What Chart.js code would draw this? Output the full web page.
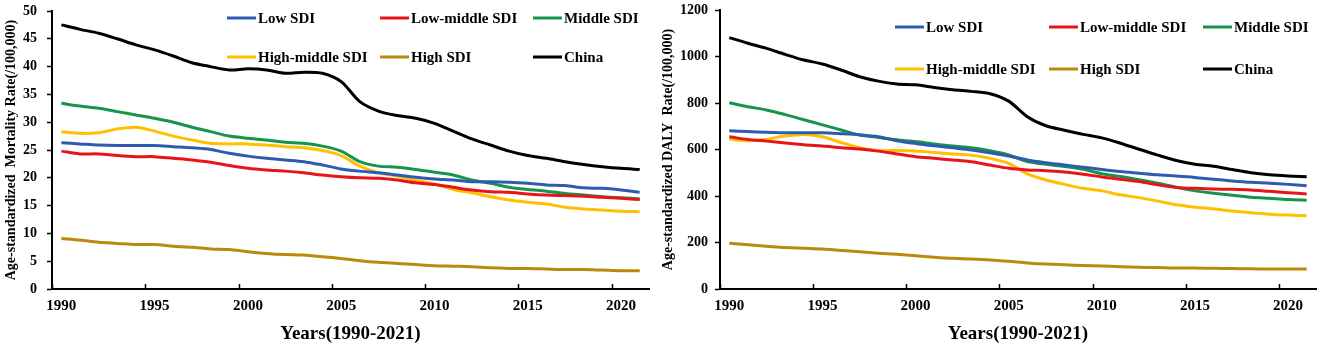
<!DOCTYPE html>
<html>
<head>
<meta charset="utf-8">
<script src="https://cdn.jsdelivr.net/npm/chart.js@4/dist/chart.umd.min.js"></script>
<style>
  html, body { margin: 0; padding: 0; background: #fff; }
  #wrap { position: relative; width: 1325px; height: 348px; overflow: hidden; }
  .cv { position: absolute; top: 0; }
  .leg { position: absolute; display: flex; align-items: center; font: bold 15px "Liberation Serif", "Times New Roman", serif; color: #000; white-space: nowrap; transform: translateY(-50%); }
  .leg span.ln { display: inline-block; width: 29px; height: 3.5px; margin-right: 2px; }
</style>
</head>
<body>
<div id="wrap">
  <div class="cv" style="left:0;width:660px;height:348px;"><canvas id="c1" width="660" height="348"></canvas></div>
  <div class="cv" style="left:660px;width:665px;height:348px;"><canvas id="c2" width="665" height="348"></canvas></div>
</div>
<script>
// ---------- DATA ----------
const years = [1990,1991,1992,1993,1994,1995,1996,1997,1998,1999,2000,2001,2002,2003,2004,2005,
               2006,2007,2008,2009,2010,2011,2012,2013,2014,2015,2016,2017,2018,2019,2020,2021];
const xTickLabels = ['1990','1995','2000','2005','2010','2015','2020'];
const seriesNames = ['Low SDI','Low-middle SDI','Middle SDI','High-middle SDI','High SDI','China'];
const seriesColors = ['#2E5BB0','#E8141B','#16954A','#FFC000','#BA8A0C','#000000'];

// Age-standardized mortality rate (/100,000)
const mortLow       = [26.3,26.1,25.9,25.8,25.8,25.8,25.6,25.4,25.1,24.4,23.9,23.5,23.2,22.9,22.3,21.6,21.2,20.9,20.5,20.1,19.8,19.6,19.3,19.3,19.2,19.0,18.7,18.6,18.2,18.1,17.8,17.4];
const mortLowMiddle = [24.8,24.3,24.3,24.0,23.8,23.8,23.5,23.2,22.8,22.2,21.7,21.4,21.2,20.9,20.5,20.2,20.0,19.9,19.6,19.1,18.8,18.3,17.8,17.5,17.4,17.1,16.9,16.8,16.7,16.5,16.3,16.1];
const mortMiddle    = [33.4,32.9,32.5,31.9,31.3,30.7,30.0,29.1,28.3,27.5,27.1,26.8,26.4,26.2,25.7,24.8,22.9,22.1,21.9,21.5,21.0,20.5,19.6,19.0,18.3,17.9,17.6,17.2,16.9,16.6,16.4,16.2];
const mortHighMid   = [28.3,28.0,28.1,28.8,29.1,28.4,27.5,26.8,26.2,26.1,26.1,25.9,25.6,25.4,24.9,24.0,22.1,20.9,20.3,19.5,18.9,17.9,17.3,16.6,16.0,15.6,15.3,14.7,14.4,14.2,14.0,13.9];
const mortHigh      = [9.1,8.8,8.4,8.2,8.0,8.0,7.7,7.5,7.2,7.1,6.7,6.4,6.2,6.1,5.8,5.5,5.1,4.8,4.6,4.4,4.2,4.1,4.0,3.8,3.7,3.7,3.6,3.5,3.5,3.4,3.3,3.3];
const mortChina     = [47.5,46.7,46.0,45.0,43.9,43.0,41.9,40.7,40.0,39.4,39.6,39.4,38.8,39.0,38.8,37.3,33.7,32.0,31.2,30.7,29.8,28.4,27.0,25.9,24.8,24.0,23.5,22.9,22.4,22.0,21.7,21.5];

// Age-standardized DALY rate (/100,000)
const dalyLow       = [681,677,674,672,672,672,668,663,655,638,626,616,607,598,586,572,555,543,533,524,514,505,498,491,486,480,472,465,459,455,450,444];
const dalyLowMiddle = [655,643,636,628,620,615,608,602,593,581,569,562,555,547,533,519,512,509,503,494,482,472,462,448,437,433,430,429,426,420,414,409];
const dalyMiddle    = [801,784,770,750,728,706,684,662,652,642,634,624,615,608,595,577,548,536,527,515,496,484,470,455,438,422,412,403,395,390,385,382];
const dalyHighMid   = [645,638,644,658,665,655,630,608,595,596,594,587,581,575,562,540,495,469,450,433,422,405,393,378,362,352,345,335,328,322,318,315];
const dalyHigh      = [197,190,184,178,175,172,166,160,154,149,143,137,132,129,125,119,112,107,104,101,99,96,94,92,90,90,89,88,87,86,86,86];
const dalyChina     = [1081,1057,1035,1009,985,968,942,913,894,882,878,867,857,850,840,808,741,702,683,665,650,627,601,576,553,537,528,514,500,491,486,483];

const mortTicks = [0,5,10,15,20,25,30,35,40,45,50];
const dalyTicks = [0,200,400,600,800,1000,1200];

// ---------- CHART ----------
const FONT = "'Liberation Serif', 'Times New Roman', serif";

// short inward tick marks on the category axis, at the left edge of each labelled year
const innerTicks = {
  id: 'innerTicks',
  afterDraw(chart) {
    const ctx = chart.ctx, xs = chart.scales.x, ca = chart.chartArea;
    const len = 5;
    ctx.save();
    ctx.strokeStyle = '#000';
    ctx.lineWidth = 1.5;
    ctx.beginPath();
    const half = (xs.getPixelForValue(1) - xs.getPixelForValue(0)) / 2;
    years.forEach((yr, i) => {
      if (xTickLabels.includes(String(yr))) {
        const px = Math.round(xs.getPixelForValue(i) - half) + 0.5;
        ctx.moveTo(px, ca.bottom); ctx.lineTo(px, ca.bottom - len);
      }
    });
    ctx.stroke();
    ctx.restore();
  }
};

function noPad(s) { s.paddingTop = 0; s.paddingBottom = 0; s.paddingLeft = 0; s.paddingRight = 0; }

function makeChart(id, dataArrays, yTicks, yMax, yTitle, cfg) {
  const datasets = dataArrays.map((d, i) => ({
    label: seriesNames[i], data: d, borderColor: seriesColors[i], backgroundColor: seriesColors[i],
    borderWidth: 3, pointRadius: 0, tension: 0.3, fill: false
  }));
  return new Chart(document.getElementById(id), {
    type: 'line',
    data: { labels: years.map(String), datasets },
    plugins: [innerTicks],
    options: {
      responsive: false, animation: false,
      layout: { padding: { top: cfg.top, right: cfg.right, bottom: 0, left: 0 } },
      plugins: { legend: { display: false }, tooltip: { enabled: false } },
      scales: {
        x: {
          type: 'category', offset: true,
          grid: { display: true, drawOnChartArea: false, drawTicks: false, offset: true, color: 'rgba(0,0,0,0)' },
          border: { display: true, color: '#000', width: 2 },
          ticks: {
            autoSkip: false, maxRotation: 0, minRotation: 0, padding: 8, color: '#000',
            font: { family: FONT, size: 15, weight: 'bold' },
            callback: (v, i) => xTickLabels.includes(String(years[i])) ? String(years[i]) : ''
          },
          title: { display: true, text: 'Years(1990-2021)', color: '#000', padding: { top: 0, bottom: 3 },
                   font: { family: FONT, size: 19, weight: 'bold' } },
          afterFit: s => { s.height = 59; noPad(s); }
        },
        y: {
          min: 0, max: yMax,
          afterBuildTicks: s => { s.ticks = yTicks.map(v => ({ value: v })); },
          grid: { display: true, drawOnChartArea: false, drawTicks: true, tickLength: 5, tickWidth: 1.5, tickColor: '#000' },
          border: { display: true, color: '#000', width: 2 },
          ticks: { padding: cfg.tickPad, color: '#000', font: { family: FONT, size: 14, weight: 'bold' },
                   callback: v => String(v) },
          title: { display: true, text: yTitle, color: '#000', padding: { top: cfg.titlePad, bottom: 0 },
                   font: { family: FONT, size: 14, weight: 'bold' } },
          afterFit: s => { s.width = cfg.yWidth; noPad(s); }
        }
      }
    }
  });
}

makeChart('c1', [mortLow, mortLowMiddle, mortMiddle, mortHighMid, mortHigh, mortChina], mortTicks, 50,
  'Age-standardized  Mortality Rate(/100,000)', { top: 11, right: 11, yWidth: 52, tickPad: 10, titlePad: 3 });
makeChart('c2', [dalyLow, dalyLowMiddle, dalyMiddle, dalyHighMid, dalyHigh, dalyChina], dalyTicks, 1200,
  'Age-standardized DALY  Rate(/100,000)', { top: 10, right: 9, yWidth: 60, tickPad: 7, titlePad: 0 });

// ---------- HTML legends ----------
function makeLegend(colX, rowY) {
  const wrap = document.getElementById('wrap');
  seriesNames.forEach((name, i) => {
    const d = document.createElement('div');
    d.className = 'leg';
    d.style.left = colX[i % 3] + 'px';
    d.style.top = rowY[Math.floor(i / 3)] + 'px';
    const ln = document.createElement('span');
    ln.className = 'ln'; ln.style.background = seriesColors[i];
    d.appendChild(ln);
    d.appendChild(document.createTextNode(name));
    wrap.appendChild(d);
  });
}
makeLegend([227, 380, 533], [18, 57]);
makeLegend([895, 1049, 1203], [27, 69]);
</script>
</body>
</html>
